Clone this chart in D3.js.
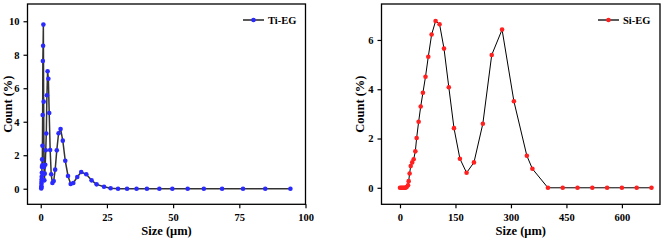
<!DOCTYPE html>
<html>
<head>
<meta charset="utf-8">
<script src="https://cdn.jsdelivr.net/npm/d3@7"></script>
<style>
  body { margin: 0; background: #fff; }
  text { font-family: 'Liberation Serif', 'Times New Roman', serif; font-weight: bold; }
</style>
</head>
<body>
<div id="container"></div>
<script>
// Ti-EG size distribution (size in um, count in %)
let tiSize = [0.20, 0.22, 0.25, 0.28, 0.31, 0.34, 0.38, 0.42, 0.47, 0.52, 0.58, 0.65, 0.72, 0.80, 0.89, 0.99,
  1.10, 1.23, 1.37, 1.52, 1.70, 1.89, 2.10, 2.33, 2.59, 2.88, 3.20, 3.56, 3.96, 4.41, 4.90, 5.45, 6.06, 6.74,
  7.49, 8.33, 9.26, 10.3, 11.3, 12.3, 13.8, 15.3, 17.2, 19.2, 21.1, 23.9, 26.4, 29.2, 32.6, 36.2, 40.1, 44.8,
  49.7, 55.5, 61.6, 68.5, 76.4, 84.8, 94.3]
let tiCount = [0.02, 0.08, 0.15, 0.30, 0.42, 0.55, 0.72, 0.95, 1.30, 1.75, 1.40, 2.57, 4.40, 7.63, 8.54, 9.80,
  5.20, 1.30, 0.50, 0.90, 1.43, 2.30, 3.30, 5.58, 7.01, 6.57, 4.52, 2.31, 0.86, 0.34, 0.46, 1.14, 2.29, 3.31,
  3.57, 2.87, 1.67, 0.76, 0.28, 0.34, 0.70, 1.00, 0.86, 0.50, 0.26, 0.12, 0.03, 0, 0, 0, 0, 0,
  0, 0, 0, 0, 0, 0, 0]

// Si-EG size distribution
let siSize = [0, 3, 6, 9, 12, 15, 18, 21.7, 23.5, 26, 29, 33, 37, 41.5, 45, 50.4, 56, 62, 69, 76.5, 85.5, 96.3,
  107, 119, 132, 146, 162, 180, 200, 224, 248, 276, 308, 343, 358, 400, 440, 480, 520, 560, 600, 640, 680]
let siCount = [0, 0, 0, 0, 0, 0, 0.03, 0.1, 0.27, 0.58, 0.88, 1.03, 1.16, 1.48, 2.02, 2.68, 3.3, 3.86, 4.51, 5.32, 6.22, 6.77,
  6.64, 5.65, 4.08, 2.42, 1.18, 0.61, 1.03, 2.6, 5.39, 6.42, 3.51, 1.3, 0.77, 0, 0, 0, 0, 0, 0, 0, 0]

let tiXTicks = [0, 25, 50, 75, 100],
  tiYTicks = [0, 2, 4, 6, 8, 10],
  siXTicks = [0, 150, 300, 450, 600],
  siYTicks = [0, 2, 4, 6]

let width = 665, height = 242

let svg = d3.select('#container')
  .append('svg')
  .attr('width', width)
  .attr('height', height)

function panel(opt) {
  let xScale = d3.scaleLinear().domain(opt.xDomain).range([opt.left, opt.right]),
    yScale = d3.scaleLinear().domain(opt.yDomain).range([opt.bottom, opt.top])

  let g = svg.append('g')

  // frame
  g.append('rect')
    .attr('x', opt.left).attr('y', opt.top)
    .attr('width', opt.right - opt.left).attr('height', opt.bottom - opt.top)
    .attr('fill', 'none').attr('stroke', '#000').attr('stroke-width', 1.3)

  let xAxis = d3.axisBottom(xScale).tickValues(opt.xTicks).tickSize(4).tickSizeOuter(0),
    yAxis = d3.axisLeft(yScale).tickValues(opt.yTicks).tickSize(4).tickSizeOuter(0)

  let gx = g.append('g')
    .attr('transform', 'translate(0, ' + opt.bottom + ')')
    .call(xAxis)
  let gy = g.append('g')
    .attr('transform', 'translate(' + opt.left + ', 0)')
    .call(yAxis)
  ;[gx, gy].forEach(a => {
    a.select('.domain').remove()
    a.selectAll('line').attr('stroke', '#000').attr('stroke-width', 1.2)
    a.selectAll('text').attr('font-size', 10.5).attr('fill', '#000')
  })
  gx.selectAll('text').attr('dy', '0.95em')
  gy.selectAll('text').attr('dx', '-0.1em')

  let data = opt.x.map((d, i) => [d, opt.y[i]])
  let line = d3.line()
    .x(d => xScale(d[0]))
    .y(d => yScale(d[1]))

  g.append('path')
    .attr('d', line(data))
    .attr('fill', 'none')
    .attr('stroke', opt.lineColor)
    .attr('stroke-width', opt.lineWidth)
    .attr('stroke-linejoin', 'round')

  g.selectAll('circle.pt')
    .data(data)
    .enter().append('circle')
    .attr('class', 'pt')
    .attr('cx', d => xScale(d[0]))
    .attr('cy', d => yScale(d[1]))
    .attr('r', 2.3)
    .attr('fill', opt.color)

  // axis titles
  g.append('text')
    .text('Size (μm)')
    .attr('x', (opt.left + opt.right) / 2)
    .attr('y', 235)
    .attr('text-anchor', 'middle')
    .attr('font-size', 12.5)

  g.append('text')
    .text('Count (%)')
    .attr('transform', 'translate(' + opt.yTitleX + ', ' + (opt.top + opt.bottom) / 2 + ') rotate(-90)')
    .attr('text-anchor', 'middle')
    .attr('dy', '0.35em')
    .attr('font-size', 12.5)

  // legend
  let lg = g.append('g').attr('transform', 'translate(' + opt.legendX + ', 20)')
  lg.append('line')
    .attr('x1', 0).attr('x2', 21).attr('y1', 0).attr('y2', 0)
    .attr('stroke', '#000').attr('stroke-width', 1.3)
  lg.append('circle').attr('cx', 10.5).attr('cy', 0).attr('r', 2.3).attr('fill', opt.color)
  lg.append('text')
    .text(opt.name)
    .attr('x', 25).attr('y', 0).attr('dy', '0.35em')
    .attr('font-size', 10.5)
}

panel({
  name: 'Ti-EG', x: tiSize, y: tiCount,
  xDomain: [-5, 100], yDomain: [-0.93, 11.03],
  left: 27.5, right: 305.5, top: 4, bottom: 204.3,
  xTicks: tiXTicks, yTicks: tiYTicks,
  color: '#2a2aff', lineColor: '#333', lineWidth: 1.5,
  yTitleX: 8, legendX: 243
})

panel({
  name: 'Si-EG', x: siSize, y: siCount,
  xDomain: [-50, 703], yDomain: [-0.67, 7.46],
  left: 381.5, right: 660, top: 4, bottom: 204.3,
  xTicks: siXTicks, yTicks: siYTicks,
  color: '#ff2020', lineColor: '#000', lineWidth: 1,
  yTitleX: 360, legendX: 598
})
</script>
</body>
</html>
